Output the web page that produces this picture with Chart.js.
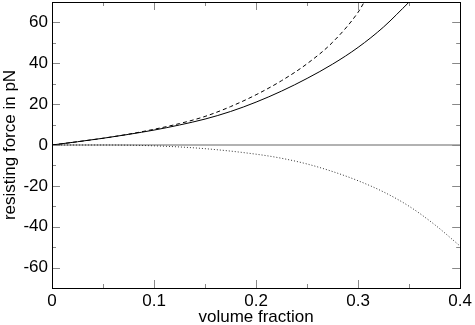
<!DOCTYPE html>
<html>
<head>
<meta charset="utf-8">
<script src="https://cdn.jsdelivr.net/npm/chart.js@4.4.1/dist/chart.umd.min.js"></script>
<style>
  html, body { margin: 0; padding: 0; background: #fff; }
</style>
</head>
<body>
<canvas id="chart" width="475" height="325"></canvas>
<script>
// curves (volume fraction -> force in pN)
const solidX = [0, 0.025, 0.05, 0.075, 0.1, 0.125, 0.15, 0.175, 0.2, 0.225, 0.25, 0.275, 0.3, 0.325, 0.35];
const solidY = [0, 1.6, 3.3, 5.2, 7.3, 9.8, 12.7, 16.4, 21.0, 26.4, 32.6, 39.6, 47.8, 57.8, 70];

const dashedX = [0, 0.025, 0.05, 0.075, 0.1, 0.125, 0.15, 0.175, 0.2, 0.225, 0.25, 0.275, 0.3, 0.306];
const dashedY = [0, 1.6, 3.3, 5.3, 7.7, 10.5, 14.0, 18.8, 24.6, 31.5, 39.8, 50.3, 65.0, 70];

const dottedX = [0, 0.05, 0.1, 0.15, 0.2, 0.225, 0.25, 0.275, 0.3, 0.325, 0.35, 0.375, 0.4];
const dottedY = [0, 0, -0.4, -1.8, -4.5, -6.5, -9.3, -13, -17.5, -23, -30, -39, -49.5];

const zeroX = [0, 0.4];
const zeroY = [0, 0];

const xTicks = [0, 0.1, 0.2, 0.3, 0.4];
const xMinor = [0.05, 0.15, 0.25, 0.35];
const yTicks = [-60, -40, -20, 0, 20, 40, 60];
const yMinor = [-70, -50, -30, -10, 10, 30, 50, 70];

const pts = (xs, ys) => xs.map((x, i) => ({ x: x, y: ys[i] }));

// inward ticks on all four sides + black frame
const frameTicks = {
    id: 'frameTicks',
    afterDatasetsDraw(chart) {
        const { ctx, chartArea: a, scales: { x, y } } = chart;
        ctx.save();
        ctx.strokeStyle = '#888';
        ctx.lineWidth = 1;
        ctx.beginPath();
        const xMark = (v, len) => {
            const px = Math.round(x.getPixelForValue(v)) + 0.5;
            ctx.moveTo(px, a.bottom); ctx.lineTo(px, a.bottom - len);
            ctx.moveTo(px, a.top); ctx.lineTo(px, a.top + len);
        };
        const yMark = (v, len) => {
            const py = Math.round(y.getPixelForValue(v)) + 0.5;
            ctx.moveTo(a.left, py); ctx.lineTo(a.left + len, py);
            ctx.moveTo(a.right, py); ctx.lineTo(a.right - len, py);
        };
        xTicks.forEach(v => xMark(v, 8));
        xMinor.forEach(v => xMark(v, 4));
        yTicks.forEach(v => yMark(v, 8));
        yMinor.forEach(v => yMark(v, 4));
        ctx.stroke();

        ctx.strokeStyle = '#000';
        ctx.strokeRect(Math.round(a.left) + 0.5, Math.round(a.top) + 0.5,
            Math.round(a.right - a.left), Math.round(a.bottom - a.top));
        ctx.restore();
    }
};

const font = { family: "'Liberation Sans', Arial, sans-serif", size: 17 };

new Chart(document.getElementById('chart'), {
    type: 'scatter',
    data: {
        datasets: [
            {
                data: pts(solidX, solidY),
                showLine: true, borderColor: '#000', borderWidth: 1,
                pointRadius: 0, cubicInterpolationMode: 'monotone'
            },
            {
                data: pts(dashedX, dashedY),
                showLine: true, borderColor: '#000', borderWidth: 1, borderDash: [4, 3],
                pointRadius: 0, cubicInterpolationMode: 'monotone'
            },
            {
                data: pts(dottedX, dottedY),
                showLine: true, borderColor: '#333', borderWidth: 1, borderDash: [1, 2],
                pointRadius: 0, cubicInterpolationMode: 'monotone'
            },
            {
                data: pts(zeroX, zeroY),
                showLine: true, borderColor: '#999', borderWidth: 1.5,
                pointRadius: 0
            }
        ]
    },
    options: {
        responsive: false,
        animation: false,
        layout: { padding: { left: 0, right: 14, top: 2, bottom: 0 } },
        plugins: { legend: { display: false }, tooltip: { enabled: false } },
        scales: {
            x: {
                type: 'linear', min: 0, max: 0.4,
                afterBuildTicks: s => { s.ticks = xTicks.map(v => ({ value: v })); },
                afterFit: s => { s.height = 37; },
                grid: { display: false, drawTicks: false },
                border: { display: false },
                ticks: { color: '#000', font: font, padding: 3, maxRotation: 0, callback: v => String(v) },
                title: { display: true, text: 'volume fraction', color: '#000', font: font, padding: { top: 0, bottom: -3 } }
            },
            y: {
                type: 'linear', min: -70, max: 70,
                afterBuildTicks: s => { s.ticks = yTicks.map(v => ({ value: v })); },
                afterFit: s => { s.width = 52; s.paddingTop = 0; s.paddingBottom = 0; },
                grid: { display: false, drawTicks: false },
                border: { display: false },
                ticks: { color: '#000', font: font, padding: 4, callback: v => String(v) },
                title: { display: true, text: 'resisting force in pN', color: '#000', font: font, padding: { top: 0, bottom: 0 } }
            }
        }
    },
    plugins: [frameTicks]
});
</script>
</body>
</html>
